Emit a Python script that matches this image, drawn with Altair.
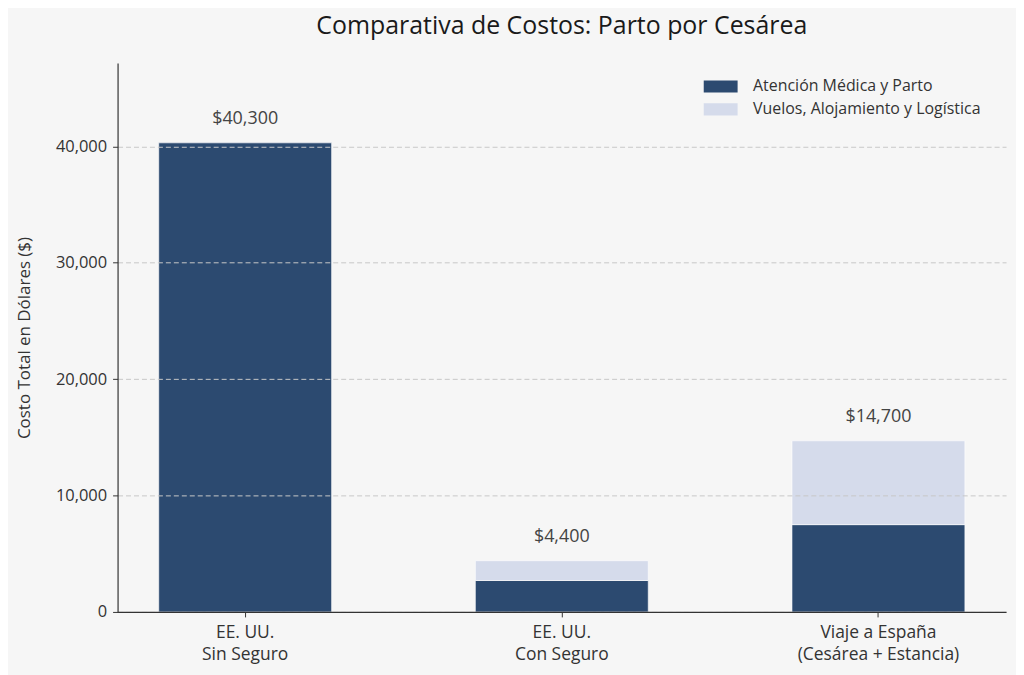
import altair as alt
import pandas as pd

categories = ["EE. UU.\nSin Seguro", "EE. UU.\nCon Seguro", "Viaje a España\n(Cesárea + Estancia)"]
series = ["Atención Médica y Parto", "Vuelos, Alojamiento y Logística"]
medical = [40300, 2700, 7500]
logistics = [0, 1700, 7200]
totals = [40300, 4400, 14700]
total_labels = ["$40,300", "$4,400", "$14,700"]
y_ticks = [0, 10000, 20000, 30000, 40000]

rows = []
for c, m, l in zip(categories, medical, logistics):
    if m > 0:
        rows.append({"cat": c, "serie": series[0], "valor": m, "orden": 0})
    if l > 0:
        rows.append({"cat": c, "serie": series[1], "valor": l, "orden": 1})
df = pd.DataFrame(rows)
df_tot = pd.DataFrame({"cat": categories, "total": totals, "label": total_labels})

FONT = "Open Sans"
ymax = max(totals) * 1.17

xscale = alt.Scale(domain=categories, paddingInner=0.454, paddingOuter=0.13)
yscale = alt.Scale(domain=[0, ymax], nice=False)

bars = alt.Chart(df).mark_bar(stroke="white", strokeWidth=0.6).encode(
    x=alt.X("cat:N", scale=xscale, sort=categories,
            axis=alt.Axis(title=None, labelAngle=0, labelExpr="split(datum.label, '\\n')",
                          labelFontSize=17.5, labelColor="#333333", labelFont=FONT,
                          labelLineHeight=22, labelPadding=7,
                          domainColor="#333333", domainWidth=1.2,
                          tickColor="#333333", tickSize=5, grid=False, zindex=2)),
    y=alt.Y("valor:Q", scale=yscale, stack="zero",
            axis=alt.Axis(title="Costo Total en Dólares ($)", values=y_ticks, format=",d",
                          labelFontSize=16.5, labelColor="#333333", labelFont=FONT,
                          titleFontSize=17, titleColor="#333333", titleFont=FONT,
                          titleFontWeight="normal", titlePadding=22,
                          domainColor="#333333", domainWidth=1.2,
                          tickColor="#333333", tickSize=5, labelPadding=6,
                          grid=True, gridDash=[5, 3], gridColor="#c8c8c8", gridWidth=1,
                          zindex=1)),
    color=alt.Color("serie:N", scale=alt.Scale(domain=series, range=["#2c4a70", "#d5dbeb"]),
                    legend=alt.Legend(title=None, orient="none", legendX=593, legendY=11,
                                      symbolType="M-1.4,-0.5H1.4V0.5H-1.4Z", symbolSize=590,
                                      symbolStrokeWidth=0, labelFontSize=16, labelFont=FONT,
                                      labelColor="#333333", rowPadding=2, padding=0,
                                      labelOffset=20, labelLimit=0)),
    order=alt.Order("orden:Q"),
)

text = alt.Chart(df_tot).mark_text(baseline="alphabetic", dy=-19, fontSize=18,
                                   font=FONT, color="#444444").encode(
    x=alt.X("cat:N", scale=xscale, sort=categories),
    y=alt.Y("total:Q", scale=yscale),
    text="label:N",
)

chart = alt.layer(bars, text).properties(
    width=892, height=551,
    title=alt.TitleParams("Comparativa de Costos: Parto por Cesárea", fontSize=25,
                          font=FONT, fontWeight="normal", color="#1a1a1a",
                          anchor="middle", offset=24),
    background="#f6f6f6",
    padding={"left": 110, "top": 54, "right": 10, "bottom": 62},
    autosize=alt.AutoSizeParams(type="none"),
).configure_view(stroke=None)

chart.save("out.html", embed_options={"renderer": "svg", "actions": False})
